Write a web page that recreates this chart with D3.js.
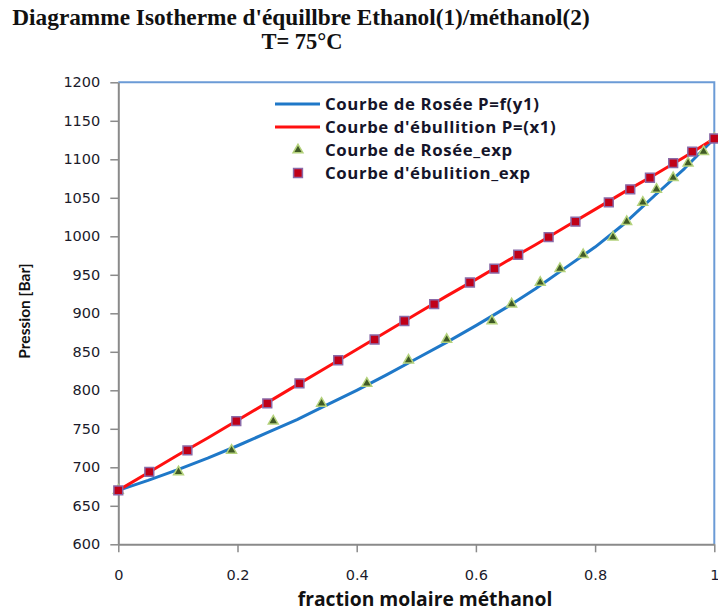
<!DOCTYPE html>
<html>
<head>
<meta charset="utf-8">
<script src="https://cdn.jsdelivr.net/npm/d3@7"></script>
<style>
  html, body { margin: 0; padding: 0; background: #fff; }
  svg { display: block; }
</style>
</head>
<body>
<svg id="chart" width="718" height="613"></svg>
<script>
// Isothermal VLE, ethanol(1)/methanol(2), T = 75 °C

// Experimental equilibrium pressures (shared by both experimental series)
const pressureExp = [670, 694, 722, 760, 783, 809, 839, 866, 890, 912, 940, 958, 976, 999, 1019, 1044, 1061, 1076, 1095, 1110, 1127];
// Liquid composition for each pressure (bubble points)
const x1Exp = [0, 0.052, 0.116, 0.198, 0.250, 0.304, 0.369, 0.430, 0.480, 0.530, 0.590, 0.631, 0.671, 0.722, 0.767, 0.823, 0.859, 0.892, 0.931, 0.963, 1.0];
// Vapour composition for each pressure (dew points)
const y1Exp = [0, 0.101, 0.190, 0.260, 0.341, 0.417, 0.487, 0.551, 0.627, 0.660, 0.708, 0.741, 0.780, 0.830, 0.853, 0.880, 0.903, 0.931, 0.956, 0.982, 1.0];

// Calculated curves, sampled along the composition axis
const curveFraction = [0, 0.05, 0.1, 0.15, 0.2, 0.25, 0.3, 0.35, 0.4, 0.45, 0.5, 0.55, 0.6, 0.65, 0.7, 0.75, 0.8, 0.85, 0.9, 0.95, 1.0];
const bubblePressure = [670, 693, 716, 738, 761, 784, 807, 830, 853, 876, 899, 922, 944, 967, 989, 1012, 1035, 1058, 1080, 1103, 1127];
const dewPressure = [670, 683, 697, 712, 728, 745, 762, 781, 800, 820, 841, 862, 884, 907, 932, 959, 986, 1017, 1053, 1088, 1127];

// Axis ticks
const xTicks = [0, 0.2, 0.4, 0.6, 0.8, 1];
const yTicks = [600, 650, 700, 750, 800, 850, 900, 950, 1000, 1050, 1100, 1150, 1200];

const seriesNames = [
  "Courbe de Rosée P=f(y1)",
  "Courbe d'ébullition P=(x1)",
  "Courbe de Rosée_exp",
  "Courbe d'ébulition_exp"
];

const svg = d3.select("#chart");
const plotLeft = 118.3, plotRight = 714.3, plotTop = 82.3, plotBottom = 544.3;

const x = d3.scaleLinear().domain([0, 1]).range([plotLeft, plotRight]);
const y = d3.scaleLinear().domain([600, 1200]).range([plotBottom, plotTop]);

const axisColor = "#8a8a8a";
const frameColor = "#6b9bd6";
const tickFont = "'DejaVu Sans', Verdana, sans-serif";
const labelFont = "'Open Sans', Lato, sans-serif";
const serif = "'Liberation Serif', 'Times New Roman', serif";

svg.append("rect").attr("width", 718).attr("height", 613).attr("fill", "#fff");

// Title
svg.append("text")
  .attr("x", 301).attr("y", 25)
  .attr("text-anchor", "middle")
  .attr("font-family", serif)
  .attr("font-weight", "bold").attr("font-size", 23.3)
  .attr("fill", "#111")
  .text("Diagramme Isotherme d'équillbre Ethanol(1)/méthanol(2)");
svg.append("text")
  .attr("x", 302).attr("y", 49)
  .attr("text-anchor", "middle")
  .attr("font-family", serif)
  .attr("font-weight", "bold").attr("font-size", 22.5)
  .attr("fill", "#111")
  .text("T= 75°C");

// Plot frame (top and right edges)
svg.append("path")
  .attr("d", `M${plotLeft},${plotTop}H${plotRight}V${plotBottom}`)
  .attr("fill", "none").attr("stroke", frameColor).attr("stroke-width", 2);

// Y axis
const yAxis = svg.append("g")
  .attr("transform", `translate(${plotLeft},0)`)
  .call(d3.axisLeft(y).tickValues(yTicks).tickSize(8).tickSizeOuter(0).tickPadding(10)
    .tickFormat(d3.format("d")));
// X axis
const xAxis = svg.append("g")
  .attr("transform", `translate(0,${plotBottom})`)
  .call(d3.axisBottom(x).tickValues(xTicks).tickSize(8).tickSizeOuter(0).tickPadding(17)
    .tickFormat(d3.format("~g")));

[yAxis, xAxis].forEach(g => {
  g.select(".domain").attr("stroke", axisColor).attr("stroke-width", 2);
  g.selectAll(".tick line").attr("stroke", axisColor).attr("stroke-width", 1.5);
  g.selectAll(".tick text")
    .attr("font-family", tickFont).attr("font-size", 14.5).attr("fill", "#1b1b2b");
});

// Axis titles
svg.append("text")
  .attr("x", 425).attr("y", 606)
  .attr("text-anchor", "middle")
  .attr("font-family", labelFont).attr("font-weight", "bold").attr("font-size", 19.3)
  .attr("fill", "#111")
  .text("fraction molaire méthanol");
svg.append("text")
  .attr("transform", "translate(30,311) rotate(-90)")
  .attr("text-anchor", "middle")
  .attr("font-family", "Lato, sans-serif").attr("font-weight", "bold").attr("font-size", 15.5)
  .attr("fill", "#111")
  .text("Pression [Bar]");

// Calculated curves
const curveLine = d3.line().x((d, i) => x(curveFraction[i])).y(d => y(d));
svg.append("path").datum(dewPressure)
  .attr("d", curveLine).attr("fill", "none")
  .attr("stroke", "#1f78c8").attr("stroke-width", 3).attr("stroke-linejoin", "round");
svg.append("path").datum(bubblePressure)
  .attr("d", curveLine).attr("fill", "none")
  .attr("stroke", "#ff1010").attr("stroke-width", 3).attr("stroke-linejoin", "round");

// Experimental points
const tri = d3.symbol().type(d3.symbolTriangle).size(42);
const sq = d3.symbol().type(d3.symbolSquare).size(78);

svg.append("g").selectAll("path")
  .data(pressureExp)
  .join("path")
  .attr("transform", (d, i) => `translate(${x(y1Exp[i])},${y(d)})`)
  .attr("d", tri)
  .attr("fill", "#3f5a26").attr("stroke", "#b4d27c").attr("stroke-width", 1.5);

svg.append("g").selectAll("path")
  .data(pressureExp)
  .join("path")
  .attr("transform", (d, i) => `translate(${x(x1Exp[i])},${y(d)})`)
  .attr("d", sq)
  .attr("fill", "#c00018").attr("stroke", "#8a6aa8").attr("stroke-width", 1.5);

// Legend
const legend = svg.append("g");
const rows = [104, 127, 150, 173];
legend.append("line").attr("x1", 275).attr("x2", 320).attr("y1", rows[0]).attr("y2", rows[0])
  .attr("stroke", "#1f78c8").attr("stroke-width", 3);
legend.append("line").attr("x1", 275).attr("x2", 320).attr("y1", rows[1]).attr("y2", rows[1])
  .attr("stroke", "#ff1010").attr("stroke-width", 3);
legend.append("path").attr("transform", `translate(298,${rows[2]})`).attr("d", tri)
  .attr("fill", "#3f5a26").attr("stroke", "#b4d27c").attr("stroke-width", 1.5);
legend.append("path").attr("transform", `translate(298,${rows[3]})`).attr("d", sq)
  .attr("fill", "#c00018").attr("stroke", "#8a6aa8").attr("stroke-width", 1.5);
legend.selectAll("text.lg")
  .data(seriesNames)
  .join("text")
  .attr("class", "lg")
  .attr("x", 325).attr("y", (d, i) => rows[i])
  .attr("dy", "0.35em")
  .attr("font-family", labelFont).attr("font-weight", "bold").attr("font-size", 16.8)
  .attr("letter-spacing", 0.6)
  .attr("fill", "#15152a")
  .text(d => d);
</script>
</body>
</html>
